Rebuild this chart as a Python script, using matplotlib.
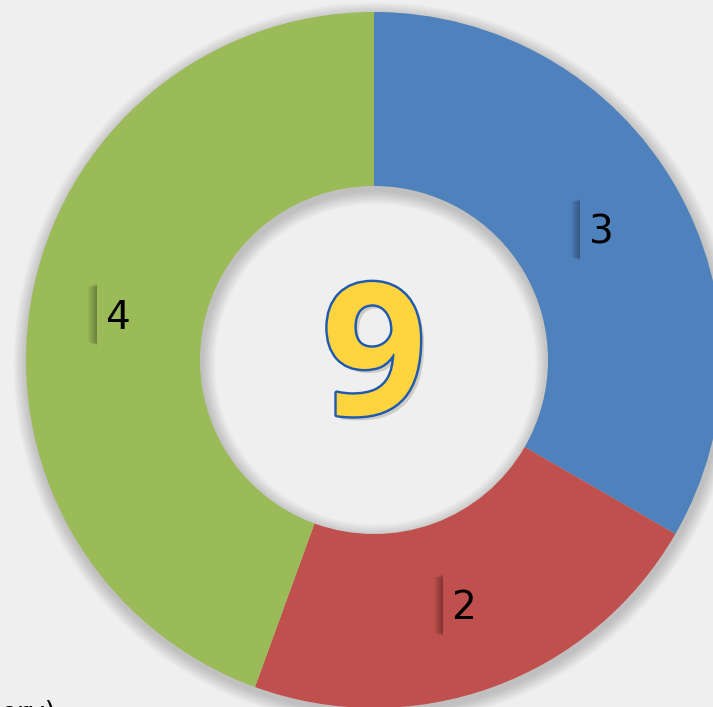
import matplotlib
matplotlib.use("Agg")
import matplotlib.pyplot as plt
import matplotlib.patheffects as pe
from matplotlib.patches import Wedge, Rectangle
import numpy as np

labels = ["3", "2", "4"]
values = [3, 2, 4]
colors = ["#4F81BD", "#C0504D", "#9BBB59"]
total_label = "9"

W, H = 713, 707
cx, cy, R = 374, 360, 348
fig = plt.figure(figsize=(W / 100, H / 100), dpi=100)
fig.patch.set_facecolor("#EFEFEF")
ax = fig.add_axes([0, 0, 1, 1])
ax.set_facecolor("#EFEFEF")

# soft shadow around the ring
for i in range(10):
    d = 0.004 * (i + 1)
    ax.add_patch(Wedge((0.004, -0.012), 1.0 + d, 0, 360, width=0.5 + 2 * d,
                       facecolor="black", alpha=0.018, linewidth=0, zorder=1))

wedges, _ = ax.pie(values, colors=colors, startangle=90, counterclock=False,
                   radius=1.0, wedgeprops=dict(width=0.5, linewidth=0))
for w in wedges:
    w.set_zorder(3)

ax.set_aspect("auto")
ax.set_xlim(-cx / R, (W - cx) / R)
ax.set_ylim(-(H - cy) / R, cy / R)
ax.axis("off")

# labels at mid-ring
angles = []
start = 90.0
tot = sum(values)
for v in values:
    span = 360.0 * v / tot
    angles.append(start - span / 2)
    start -= span

for lab, ang, col in zip(labels, angles, colors):
    x = 0.75 * np.cos(np.radians(ang))
    y = 0.75 * np.sin(np.radians(ang))
    bw, bh = 40 / R, 64 / R
    # blurred shadow on the left side
    for k in range(9):
        ax.add_patch(Rectangle((x - bw / 2 - (k + 1) * 1.0 / R, y - bh / 2 + 1 / R + k * 0.4 / R),
                               bw, bh - 2 / R - k * 0.8 / R,
                               facecolor="black", alpha=0.035, linewidth=0, zorder=4))
    ax.add_patch(Rectangle((x - bw / 2, y - bh / 2), bw, bh, facecolor=col,
                           linewidth=0, zorder=4.5))
    ax.text(x, y - 3 / R, lab, ha="center", va="center", fontsize=28, color="black",
            family="DejaVu Sans", zorder=5)

ax.text(0, -0.02, total_label, ha="center", va="center", fontsize=132,
        fontweight="bold", color="#FFD43F", family="Open Sans", zorder=6,
        path_effects=[pe.SimplePatchShadow(offset=(3, -3), alpha=0.2),
                      pe.Stroke(linewidth=3.5, foreground="#1F5AAF"), pe.Normal()])

fig.text(0.0, -0.021, "ory)", ha="left", va="baseline", fontsize=20, color="black")

fig.savefig("out.png", dpi=100, facecolor=fig.get_facecolor())
